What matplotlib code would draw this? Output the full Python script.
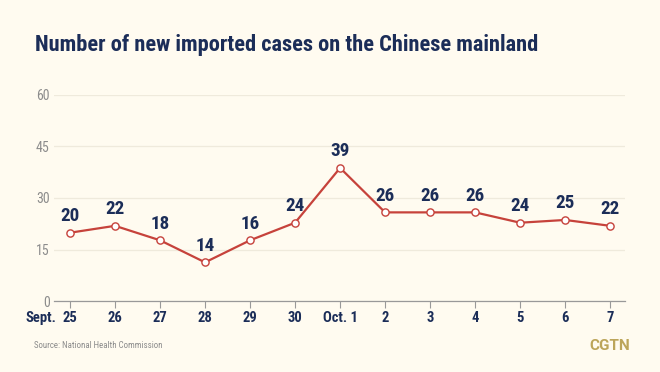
import matplotlib
matplotlib.use("Agg")
import matplotlib.pyplot as plt

# ---- data ----
dates = ["25", "26", "27", "28", "29", "30", "Oct. 1", "2", "3", "4", "5", "6", "7"]
labels = [20, 22, 18, 14, 16, 24, 39, 26, 26, 26, 24, 25, 22]
values = [19.9, 21.9, 17.7, 11.3, 17.7, 22.8, 38.7, 25.8, 25.8, 25.8, 22.8, 23.6, 21.9]
yticks = [0, 15, 30, 45, 60]

BG = "#FFFBF0"
NAVY = "#1B2D58"
RED = "#C6423B"
GRAY = "#8C8C8C"
GRID = "#EFEADC"
GOLD = "#BCA55A"
BOLD = ["Roboto Condensed", "Liberation Sans Narrow", "Roboto", "DejaVu Sans"]
REG = ["Roboto Condensed", "Liberation Sans Narrow", "Roboto", "DejaVu Sans"]

fig = plt.figure(figsize=(6.6, 3.72), dpi=100, facecolor=BG)
ax = fig.add_axes([54 / 660, 70.7 / 372, (625 - 54) / 660, (277.5 - 70.7) / 372])
ax.set_facecolor(BG)

x = list(range(len(dates)))
ax.plot(x, values, color=RED, lw=1.6, marker="o", ms=5.2, mfc="white",
        mec=RED, mew=1.0, zorder=3, clip_on=False)

for xi, v, lab in zip(x, values, labels):
    ax.annotate(str(lab), xy=(xi, v), xytext=(0, 5.5), textcoords="offset points",
                ha="center", va="bottom", fontsize=13.8, fontweight="bold",
                color=NAVY, family=BOLD)

ax.set_xlim(-0.356, 12.33)
ax.set_ylim(0, 60)
ax.set_yticks(yticks)
ax.set_yticklabels([str(t) for t in yticks], color=GRAY, fontsize=10, family=REG)
ax.set_xticks(x)
ax.set_xticklabels(dates, color=NAVY, fontsize=10.5, fontweight="bold", family=BOLD)
ax.tick_params(axis="y", length=0, pad=3)
ax.tick_params(axis="x", length=5, width=0.8, color="#999999", pad=2)
ax.grid(axis="y", color=GRID, lw=0.9, zorder=0)
ax.set_axisbelow(True)
for s in ["top", "right", "left"]:
    ax.spines[s].set_visible(False)
ax.spines["bottom"].set_color("#999999")
ax.spines["bottom"].set_linewidth(0.9)

ax.annotate("Sept.", xy=(0, 0), xycoords=("data", "axes fraction"),
            xytext=(-9.5, -7), textcoords="offset points", ha="right", va="top",
            color=NAVY, fontsize=10.5, fontweight="bold", family=BOLD)

fig.text(35 / 660, 1 - 50.5 / 372, "Number of new imported cases on the Chinese mainland",
         ha="left", va="baseline", fontsize=16.1, fontweight="bold", color=NAVY, family=BOLD)
fig.text(34 / 660, 1 - 345.5 / 372, "Source: National Health Commission",
         ha="left", va="center", fontsize=6.4, color=GRAY, family=REG)
fig.text(630 / 660, 1 - 346 / 372, "CGTN", ha="right", va="center", fontsize=11,
         fontweight="bold", color=GOLD, family=["Roboto", "DejaVu Sans"])

fig.savefig("out.png", dpi=100, facecolor=BG)
